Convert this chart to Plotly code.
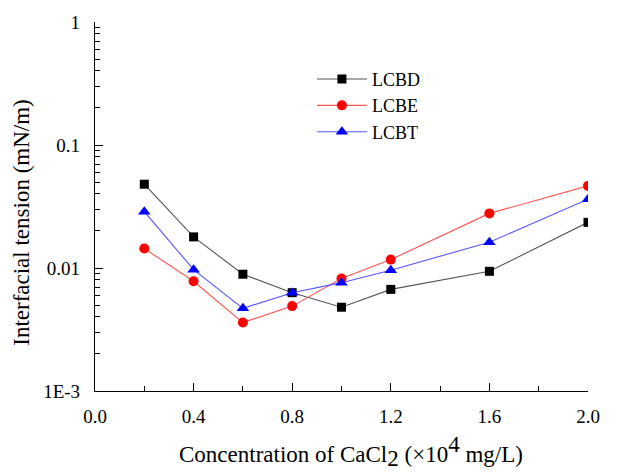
import plotly.graph_objects as go

# CaCl2 concentration (x10^4 mg/L)
concentration = [0.2, 0.4, 0.6, 0.8, 1.0, 1.2, 1.6, 2.0]

# Interfacial tension (mN/m) for each surfactant system
ift_lcbd = [0.048, 0.0179, 0.0089, 0.0063, 0.0048, 0.0067, 0.0094, 0.0235]
ift_lcbe = [0.0144, 0.0078, 0.0036, 0.0049, 0.0082, 0.0117, 0.0278, 0.0465]
ift_lcbt = [0.0287, 0.0097, 0.0047, 0.0063, 0.0076, 0.0096, 0.0162, 0.0363]

y_tickvals = [0.001, 0.01, 0.1, 1]
y_ticktext = ["1E-3", "0.01", "0.1", "1"]
x_tickvals = [0.0, 0.4, 0.8, 1.2, 1.6, 2.0]
x_ticktext = ["0.0", "0.4", "0.8", "1.2", "1.6", "2.0"]

# minor log ticks at 2..9 within each decade
y_minor = [k * 10.0 ** d for d in (-3, -2, -1) for k in range(2, 10)]

FONT = "Liberation Serif, Times New Roman, serif"
TITLE_SIZE = 23

series = [
    ("LCBD", ift_lcbd, "#000000", "#555555", "square", 9),
    ("LCBE", ift_lcbe, "#ff0000", "#ff5555", "circle", 10),
    ("LCBT", ift_lcbt, "#0000ff", "#5555ff", "triangle-up", 11),
]

fig = go.Figure()
for name, vals, mcol, lcol, sym, size in series:
    fig.add_trace(go.Scatter(
        x=concentration, y=vals, name=name, mode="lines+markers",
        line=dict(color=lcol, width=1.1),
        marker=dict(symbol=sym, size=size, color=mcol, line=dict(width=0)),
    ))

full = f'<span style="font-size:{TITLE_SIZE}px">'
x_title = (f"Concentration of CaCl<sub>{full}2</span></sub> "
           f"(×10<sup>{full}4</span></sup> mg/L)")

fig.add_annotation(
    text=x_title, xref="paper", yref="paper", x=0.52, y=-0.165,
    xanchor="center", yanchor="middle", showarrow=False,
    font=dict(family=FONT, size=TITLE_SIZE, color="black"),
)
fig.add_annotation(
    text="Interfacial tension (mN/m)", xref="paper", yref="paper",
    x=-0.148, y=0.456, xanchor="center", yanchor="middle", textangle=-90,
    showarrow=False, font=dict(family=FONT, size=TITLE_SIZE, color="black"),
)

fig.update_layout(
    width=618, height=475,
    margin=dict(l=95, r=30, t=20, b=84),
    plot_bgcolor="white", paper_bgcolor="white",
    font=dict(family=FONT, size=19, color="black"),
    showlegend=True,
    legend=dict(
        x=0.44, y=0.895, xanchor="left", yanchor="top",
        bgcolor="rgba(0,0,0,0)", font=dict(family=FONT, size=18),
        itemwidth=50, tracegroupgap=0,
    ),
    xaxis=dict(
        range=[0, 2.0], tickvals=x_tickvals, ticktext=x_ticktext,
        showline=True, linecolor="black", linewidth=1.2, mirror=False,
        ticks="inside", ticklen=8, tickwidth=1.2, tickcolor="black",
        minor=dict(ticks="inside", ticklen=5, dtick=0.2, tickcolor="black", tickwidth=1.2),
        showgrid=False, zeroline=False, ticklabelstandoff=8,
        tickfont=dict(family=FONT, size=19),
    ),
    yaxis=dict(
        type="log", range=[-3, 0], tickvals=y_tickvals, ticktext=y_ticktext,
        showline=True, linecolor="black", linewidth=1.2, mirror=False,
        ticks="inside", ticklen=8, tickwidth=1.2, tickcolor="black",
        minor=dict(ticks="inside", ticklen=5, tickvals=y_minor,
                   tickcolor="black", tickwidth=1.2),
        showgrid=False, zeroline=False, ticklabelstandoff=10,
        tickfont=dict(family=FONT, size=19),
    ),
)

fig.write_html("out.html")
